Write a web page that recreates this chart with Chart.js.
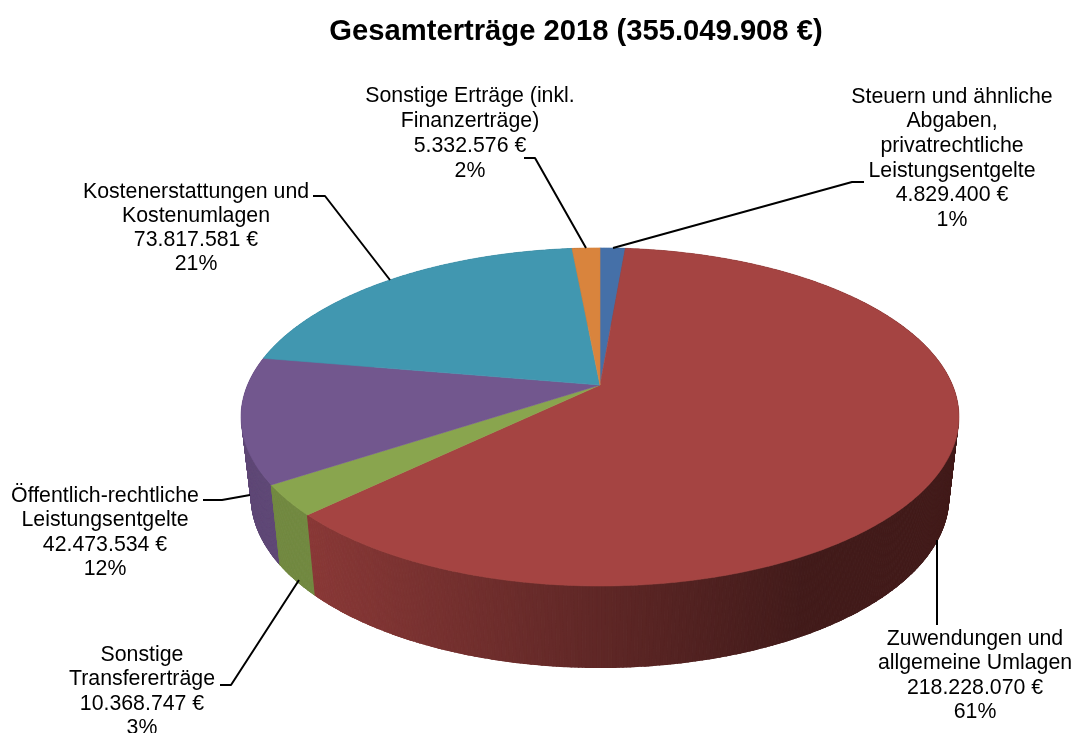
<!DOCTYPE html>
<html lang="de">
<head>
<meta charset="utf-8">
<title>Gesamterträge 2018</title>
<script src="https://cdn.jsdelivr.net/npm/chart.js@4"></script>
<style>
  html, body { margin: 0; padding: 0; background: #ffffff; }
  canvas { display: block; }
</style>
</head>
<body>
<canvas id="chart" width="1073" height="733"></canvas>
<script>
const chartTitle = "Gesamterträge 2018 (355.049.908 €)";
const categories = [
  ["Steuern und ähnliche", "Abgaben,", "privatrechtliche", "Leistungsentgelte"],
  ["Zuwendungen und", "allgemeine Umlagen"],
  ["Sonstige", "Transfererträge"],
  ["Öffentlich-rechtliche", "Leistungsentgelte"],
  ["Kostenerstattungen und", "Kostenumlagen"],
  ["Sonstige Erträge (inkl.", "Finanzerträge)"]
];
const amounts = [4829400, 218228070, 10368747, 42473534, 73817581, 5332576];
const amountLabels = ["4.829.400 €", "218.228.070 €", "10.368.747 €", "42.473.534 €", "73.817.581 €", "5.332.576 €"];
const percentLabels = ["1%", "61%", "3%", "12%", "21%", "2%"];
const sliceColors = ["#4570a8", "#a54442", "#89a54e", "#72578e", "#4197b0", "#d9843d"];

// label placement: centre x, first line y, line step
const labelSpots = [
  [952, 97, 24.6],
  [975, 639, 24.4],
  [142, 655, 24.4],
  [105, 496, 24.4],
  [196, 192, 24.2],
  [470, 96, 25]
];
const leaderLines = [
  [[864, 182], [852, 182], [613, 248]],
  [[937, 540], [937, 625]],
  [[220, 685], [231, 685], [299, 580]],
  [[203, 500], [222, 500], [250, 495]],
  [[313, 196], [325, 196], [390, 280]],
  [[524, 158], [535, 158], [586, 248]]
];

// perspective of the disc, fitted to the reference
const view = { cx: 600, apexY: 385, rx: 352.5, ry: 163, tilt: -0.189, baseY: 464.6, baseRy: 165, baseScale: 0.973 };
const STEP = Math.PI / 360;

function topPoint(theta) {
  const u = Math.sin(theta), v = -Math.cos(theta), d = 1 + view.tilt * v;
  return [view.cx + view.rx * u / d, view.apexY + view.ry * v / d];
}

function basePoint(theta) {
  const u = Math.sin(theta), v = -Math.cos(theta), d = 1 + view.tilt * v;
  return [view.cx + view.baseScale * view.rx * u / d, view.baseY + view.baseRy * v / d];
}

// side wall gets darker from left to right
function shade(hex, x) {
  const t = Math.min(1, Math.max(0, (x - 316) / 484));
  const f = 0.83 - 0.43 * t;
  const n = parseInt(hex.slice(1), 16);
  return `rgb(${Math.round((n >> 16) * f)},${Math.round(((n >> 8) & 255) * f)},${Math.round((n & 255) * f)})`;
}

// outline of the whole solid, keeps the wall edge from going ragged
function convexHull(points) {
  const pts = points.slice().sort((a, b) => a[0] - b[0] || a[1] - b[1]);
  const cross = (o, a, b) => (a[0] - o[0]) * (b[1] - o[1]) - (a[1] - o[1]) * (b[0] - o[0]);
  const lower = [], upper = [];
  pts.forEach(p => {
    while (lower.length > 1 && cross(lower[lower.length - 2], lower[lower.length - 1], p) <= 0) lower.pop();
    lower.push(p);
  });
  pts.slice().reverse().forEach(p => {
    while (upper.length > 1 && cross(upper[upper.length - 2], upper[upper.length - 1], p) <= 0) upper.pop();
    upper.push(p);
  });
  return lower.slice(0, -1).concat(upper.slice(0, -1));
}

const pie3d = {
  id: "pie3d",
  beforeDatasetsDraw(chart) {
    const ctx = chart.ctx;
    const arcs = chart.getDatasetMeta(0).data;
    const slices = arcs.map((arc, i) => ({
      from: arc.startAngle + Math.PI / 2,
      to: arc.endAngle + Math.PI / 2,
      color: sliceColors[i]
    }));

    // side wall, back to front
    const quads = [];
    const rim = [];
    slices.forEach(s => {
      for (let a = s.from; a < s.to; a += STEP) {
        quads.push({ a, end: Math.min(a + STEP, s.to), color: s.color });
        rim.push(topPoint(a), basePoint(a));
      }
    });
    const hull = convexHull(rim);
    quads.sort((p, q) => Math.cos(q.a) - Math.cos(p.a));

    ctx.save();
    ctx.beginPath();
    hull.forEach((p, i) => (i ? ctx.lineTo(p[0], p[1]) : ctx.moveTo(p[0], p[1])));
    ctx.closePath();
    ctx.clip();
    quads.forEach(q => {
      const p1 = topPoint(q.a), p2 = topPoint(q.end), p3 = basePoint(q.end), p4 = basePoint(q.a);
      const c = shade(q.color, p4[0]);
      ctx.fillStyle = c;
      ctx.strokeStyle = c;
      ctx.lineWidth = 1;
      ctx.beginPath();
      ctx.moveTo(p1[0], p1[1]);
      ctx.lineTo(p2[0], p2[1]);
      ctx.lineTo(p3[0], p3[1]);
      ctx.lineTo(p4[0], p4[1]);
      ctx.closePath();
      ctx.fill();
      ctx.stroke();
    });
    ctx.restore();

    // top face
    slices.forEach(s => {
      ctx.fillStyle = s.color;
      ctx.strokeStyle = s.color;
      ctx.lineWidth = 0.6;
      ctx.beginPath();
      ctx.moveTo(view.cx, view.apexY);
      for (let a = s.from; a < s.to; a += STEP) {
        const p = topPoint(a);
        ctx.lineTo(p[0], p[1]);
      }
      const last = topPoint(s.to);
      ctx.lineTo(last[0], last[1]);
      ctx.closePath();
      ctx.fill();
      ctx.stroke();
    });

    return false;
  },
  afterDraw(chart) {
    const ctx = chart.ctx;
    ctx.save();
    ctx.strokeStyle = "#000000";
    ctx.lineWidth = 2;
    ctx.lineJoin = "round";
    leaderLines.forEach(line => {
      ctx.beginPath();
      line.forEach((p, i) => (i ? ctx.lineTo(p[0], p[1]) : ctx.moveTo(p[0], p[1])));
      ctx.stroke();
    });

    ctx.fillStyle = "#000000";
    ctx.font = '21.3px "Liberation Sans", Arial, sans-serif';
    ctx.textAlign = "center";
    ctx.textBaseline = "middle";
    categories.forEach((name, i) => {
      const spot = labelSpots[i];
      [...name, amountLabels[i], percentLabels[i]].forEach((line, k) => {
        ctx.fillText(line, spot[0], spot[1] + k * spot[2]);
      });
    });
    ctx.restore();
  }
};

new Chart(document.getElementById("chart"), {
  type: "pie",
  data: {
    labels: categories.map(c => c.join(" ")),
    datasets: [{ data: amounts, backgroundColor: sliceColors, borderWidth: 0 }]
  },
  options: {
    responsive: false,
    animation: false,
    layout: { padding: { left: 79 } },
    plugins: {
      legend: { display: false },
      tooltip: { enabled: false },
      title: {
        display: true,
        text: chartTitle,
        fullSize: false,
        color: "#000000",
        font: { family: '"Liberation Sans", Arial, sans-serif', size: 29.2, weight: "bold" },
        padding: { top: 14, bottom: 10 }
      }
    }
  },
  plugins: [pie3d]
});
</script>
</body>
</html>
